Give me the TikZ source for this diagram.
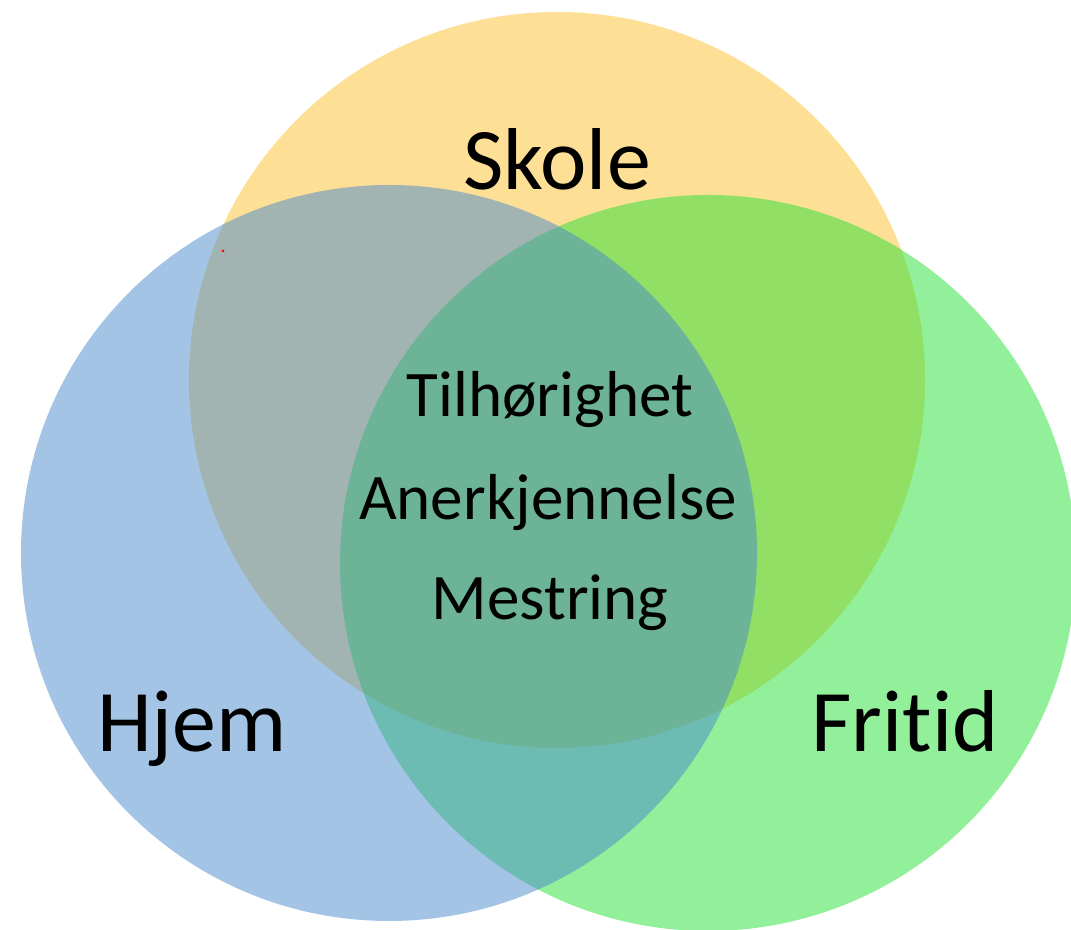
\documentclass[tikz,border=0pt]{standalone}
\usepackage{fontspec}
\setmainfont{Carlito}[Ligatures=NoCommon]
\definecolor{skolecol}{RGB}{251,191,45}
\definecolor{fritidcol}{RGB}{39,225,53}
\definecolor{hjemcol}{RGB}{73,137,205}
\tikzset{
	ring/.style={circle, minimum size=7.36cm, inner sep=0pt, fill opacity=0.5},
	big/.style={anchor=base, font=\fontsize{25}{30}\selectfont},
	small/.style={anchor=base, font=\fontsize{18.5}{22}\selectfont}
}

\begin{document}
\begin{tikzpicture}
	\useasboundingbox (0,0) rectangle (10.71,9.30);
	\node (skole) [ring, fill=skolecol] at (5.57,5.50) {};
	\node (fritid) [ring, fill=fritidcol] at (7.08,3.67) {};
	\node (hjem) [ring, fill=hjemcol] at (3.89,3.77) {};
	\node (skoletxt) [big] at (5.57,7.40) {Skole};
	\node (hjemtxt) [big] at (1.92,1.78) {Hjem};
	\node (fritidtxt) [big] at (9.05,1.78) {Fritid};
	\node (t1) [small] at (5.50,5.13) {Tilhørighet};
	\node (t2) [small] at (5.48,4.10) {Anerkjennelse};
	\node (t3) [small] at (5.50,3.10) {Mestring};
	\fill[red] (2.23,6.79) circle (0.015);
\end{tikzpicture}
\end{document}
